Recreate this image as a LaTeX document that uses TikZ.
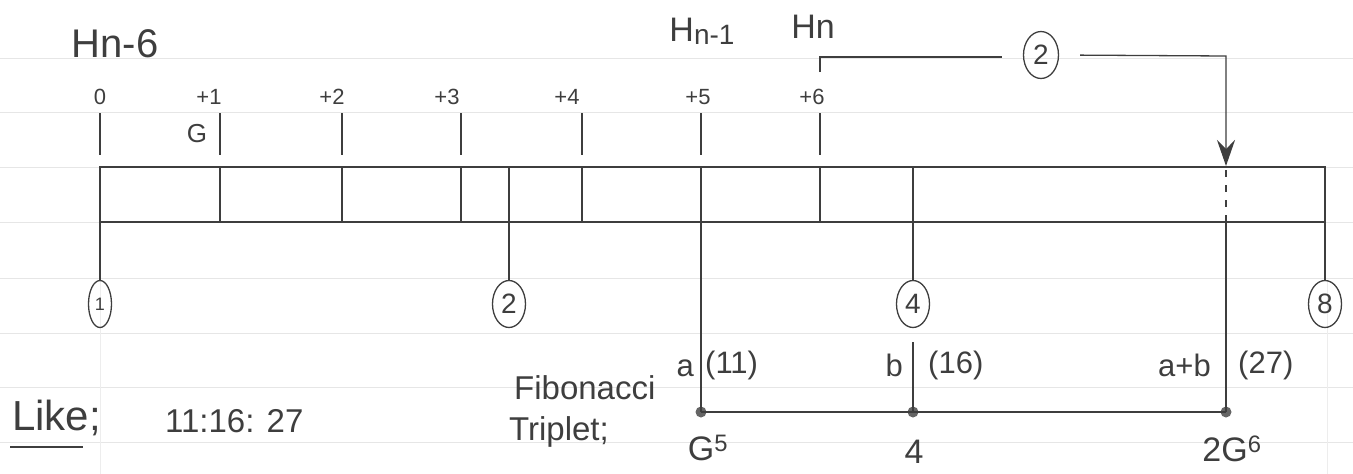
\documentclass[tikz,border=0pt]{standalone}
\usepackage{fontspec}
\setmainfont{Liberation Sans}
\usetikzlibrary{shapes.geometric,arrows.meta}
\definecolor{ink}{HTML}{3E3E3E}
\definecolor{paper}{HTML}{E6E6E6}
\tikzset{
  pen/.style={draw=ink, line width=1.3pt},
  rule/.style={draw=paper, line width=0.8pt},
  lbl/.style={text=ink, inner sep=0pt, font=\fontsize{22}{24}\selectfont},
  mlbl/.style={text=ink, inner sep=0pt, font=\fontsize{33}{35}\selectfont},
  blbl/.style={text=ink, inner sep=0pt, font=\fontsize{31}{33}\selectfont},
  ring/.style={ellipse, pen, minimum width=33pt, minimum height=47pt, inner sep=0pt, text=ink, font=\fontsize{28}{30}\selectfont},
  dot/.style={circle, fill=ink!80, inner sep=0pt, minimum size=11pt}
}
\begin{document}
\begin{tikzpicture}[x=1pt,y=-1pt]
\useasboundingbox (0,0) rectangle (1353,474);
% paper rules
\foreach \yy in {58,112,167,222,278,333,387,442}
  \draw[rule] (0,\yy) -- (1353,\yy);
\draw[rule, draw=paper!70] (100,222) -- (100,474);
\draw[rule, draw=paper!70] (1327,280) -- (1327,474);

% box
\draw[pen] (100,167) rectangle (1325,222);
\foreach \xx in {220,342,461,509,582,701,820,913}
  \draw[pen, line width=1.1pt] (\xx,167) -- (\xx,222);
\draw[pen, dashed, dash pattern=on 7pt off 8pt] (1226,170) -- (1226,222);

% top ticks and labels
\foreach \xx/\nm in {100/t0,220/t1,342/t2,461/t3,582/t4,701/t5,820/t6}{
  \coordinate (\nm a) at (\xx,113);
  \coordinate (\nm b) at (\xx,155);
  \draw[pen] (\nm a) -- (\nm b);
}
\node[lbl] (l0) at (100,97) {0};
\node[lbl] (l1) at (209,97) {+1};
\node[lbl] (l2) at (332,97) {+2};
\node[lbl] (l3) at (447,97) {+3};
\node[lbl] (l4) at (567,97) {+4};
\node[lbl] (l5) at (698,97) {+5};
\node[lbl] (l6) at (812,97) {+6};
\node[lbl, font=\fontsize{26}{28}\selectfont] (G) at (197,134) {G};

\node[mlbl, font=\fontsize{40}{42}\selectfont] (hn6) at (115,44) {Hn-6};
\node[mlbl, font=\fontsize{34}{36}\selectfont] (hn1) at (702,31) {H\raisebox{-3pt}{\fontsize{28}{30}\selectfont n-1}};
\node[mlbl, font=\fontsize{34}{36}\selectfont] (hn) at (813,27) {Hn};

% bracket arrow
\coordinate (hnt) at (820,72);
\coordinate (hnc) at (820,57);
\coordinate (hnr) at (1002,57);
\node[ring, minimum width=35pt] (top2) at (1041,55) {2};
\coordinate (arc) at (1226,56);
\coordinate (tip) at (1226,166);
\draw[pen] (hnt) -- (hnc) -- (hnr);
\draw[pen, shorten <=21pt, -{Stealth[length=26pt,width=18pt,inset=9pt]}] (top2.east) -- (arc) -- (tip);

% bottom circles
\node[ring, minimum width=23pt, font=\fontsize{18}{20}\selectfont] (c1) at (100,304) {1};
\node[ring] (c2) at (509,304) {2};
\node[ring] (c4) at (913,304) {4};
\node[ring] (c8) at (1325,304) {8};
\foreach \xx/\nm in {100/c1,509/c2,913/c4,1325/c8}
  \draw[pen, line width=1.1pt] (\xx,222) -- (\nm.north);

% triplet lines
\node[dot] (da) at (701,412) {};
\node[dot] (db) at (913,412) {};
\node[dot] (dab) at (1226,412) {};
\coordinate (ta) at (701,222);
\coordinate (tab) at (1226,222);
\coordinate (tb) at (913,342);
\draw[pen] (ta) -- (da.center);
\draw[pen] (tb) -- (db.center);
\draw[pen] (tab) -- (dab.center);
\draw[pen] (da.center) -- (db.center) -- (dab.center);

\node[blbl, anchor=east] (la) at (694,368) {a};
\node[blbl, anchor=west] (l11) at (705,365) {(11)};
\node[blbl, anchor=east] (lb) at (903,365) {b};
\node[blbl, anchor=west] (l16) at (928,365) {(16)};
\node[blbl, anchor=east] (lab) at (1211,365) {a+b};
\node[blbl, anchor=west] (l27) at (1238,365) {(27)};

\node[blbl, font=\fontsize{34}{36}\selectfont] (g5) at (708,448) {G\textsuperscript{5}};
\node[blbl, font=\fontsize{34}{36}\selectfont] (f4) at (914,452) {4};
\node[blbl, font=\fontsize{34}{36}\selectfont] (g6) at (1232,449) {2G\textsuperscript{6}};

\node[mlbl, anchor=west] (fib) at (514,388) {Fibonacci};
\node[mlbl, anchor=west] (tri) at (509,432) {Triplet;};

\node[blbl, anchor=west, font=\fontsize{42}{44}\selectfont] (like) at (12,418) {Like;};
\draw[pen] (10,447) -- (83,447);
\node[mlbl, anchor=west] (ratio) at (165,421) {11:16: 27};
\end{tikzpicture}
\end{document}
